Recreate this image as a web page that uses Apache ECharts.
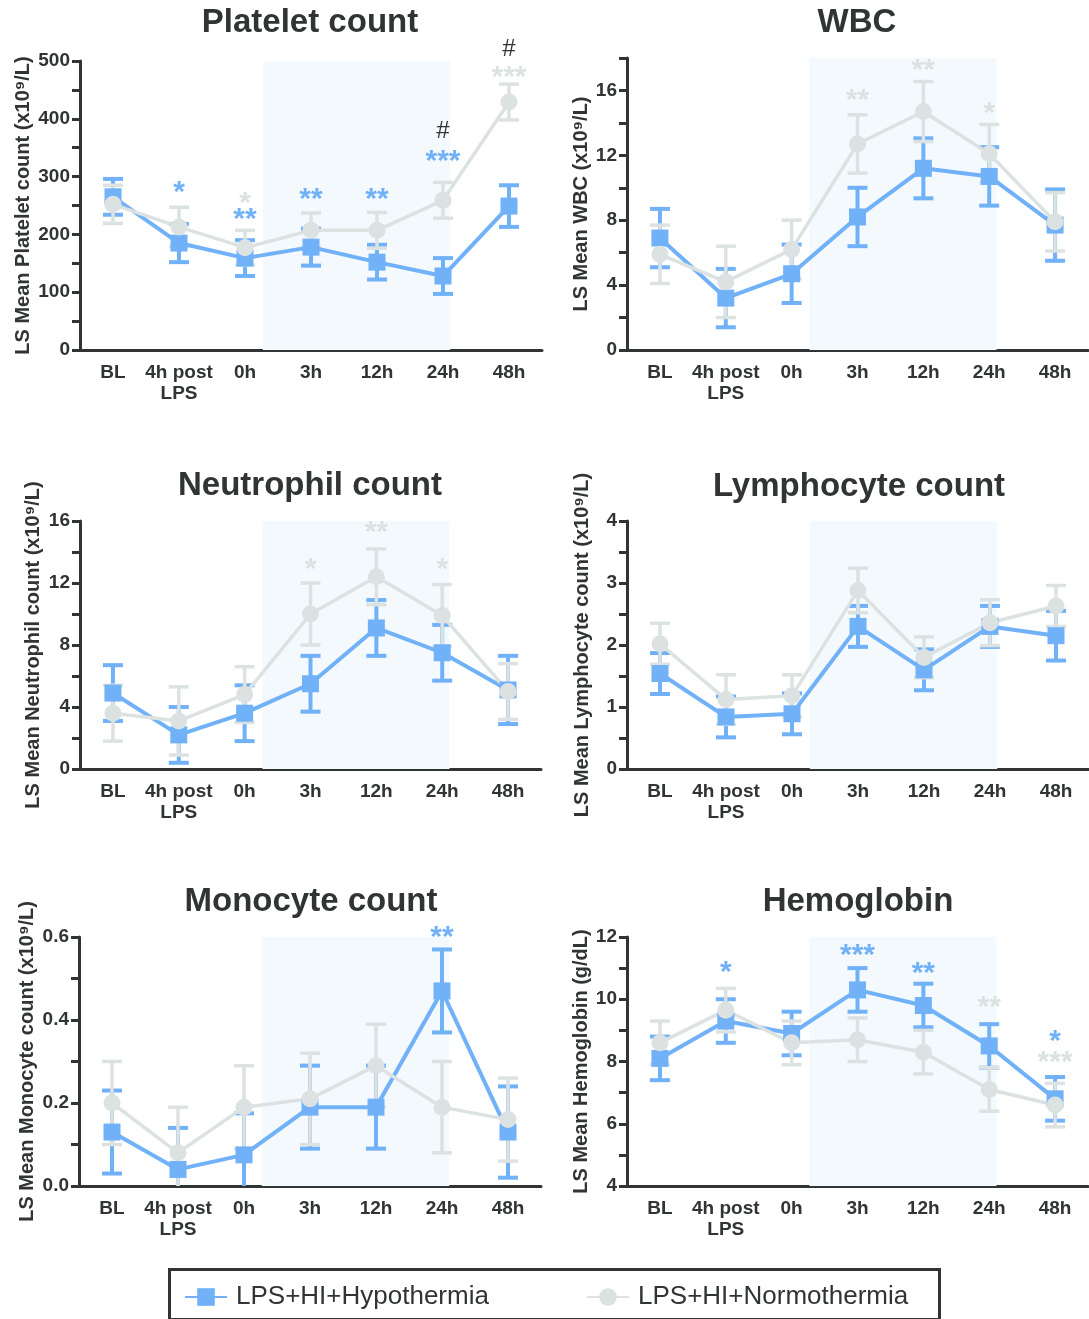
<!DOCTYPE html>
<html>
<head>
<meta charset="utf-8">
<script src="https://cdn.jsdelivr.net/npm/echarts@6/dist/echarts.min.js"></script>
<style>
html,body{margin:0;padding:0;background:#fff;}
#chart{width:1089px;height:1319px;}
</style>
</head>
<body>
<div id="chart"></div>
<script>
// ---------------- DATA ----------------
const categories = ['BL', '4h post\nLPS', '0h', '3h', '12h', '24h', '48h'];
const seriesNames = ['LPS+HI+Hypothermia', 'LPS+HI+Normothermia'];
const shadeRange = [2.27, 5.11];

const panelTitles = ['Platelet count', 'WBC', 'Neutrophil count', 'Lymphocyte count', 'Monocyte count', 'Hemoglobin'];
const yAxisNames = [
  'LS Mean Platelet count (x10\u2079/L)',
  'LS Mean WBC (x10\u2079/L)',
  'LS Mean Neutrophil count (x10\u2079/L)',
  'LS Mean Lymphocyte count (x10\u2079/L)',
  'LS Mean Monocyte count (x10\u2079/L)',
  'LS Mean Hemoglobin (g/dL)'
];
const yMins = [0, 0, 0, 0, 0, 4];
const yMaxs = [500, 18, 16, 4, 0.6, 12];
const yTickStep = [50, 2, 2, 0.5, 0.1, 1];
const yLabelStep = [100, 4, 4, 1, 0.2, 2];

// Platelet
const plateletHypo = [265, 185, 159, 178, 152, 128, 249];
const plateletHypoSE = [31, 33, 31, 32, 30, 31, 36];
const plateletNormo = [252, 213, 177, 207, 207, 259, 429];
const plateletNormoSE = [33, 34, 30, 30, 31, 31, 31];
// WBC
const wbcHypo = [6.9, 3.2, 4.7, 8.2, 11.2, 10.7, 7.7];
const wbcHypoSE = [1.8, 1.8, 1.8, 1.8, 1.85, 1.8, 2.2];
const wbcNormo = [5.9, 4.2, 6.2, 12.7, 14.7, 12.1, 7.9];
const wbcNormoSE = [1.8, 2.2, 1.8, 1.8, 1.85, 1.8, 1.8];
// Neutrophil
const neutHypo = [4.9, 2.2, 3.6, 5.5, 9.1, 7.5, 5.1];
const neutHypoSE = [1.8, 1.8, 1.8, 1.8, 1.8, 1.8, 2.2];
const neutNormo = [3.6, 3.1, 4.8, 10.0, 12.4, 9.9, 5.0];
const neutNormoSE = [1.8, 2.2, 1.8, 2.0, 1.8, 2.0, 1.8];
// Lymphocyte
const lymphHypo = [1.54, 0.84, 0.89, 2.3, 1.6, 2.3, 2.15];
const lymphHypoSE = [0.33, 0.33, 0.33, 0.33, 0.33, 0.33, 0.4];
const lymphNormo = [2.02, 1.12, 1.18, 2.88, 1.8, 2.36, 2.63];
const lymphNormoSE = [0.33, 0.4, 0.34, 0.36, 0.33, 0.37, 0.33];
// Monocyte
const monoHypo = [0.13, 0.04, 0.075, 0.19, 0.19, 0.47, 0.13];
const monoHypoSE = [0.1, 0.1, 0.1, 0.1, 0.1, 0.1, 0.11];
const monoNormo = [0.2, 0.08, 0.19, 0.21, 0.29, 0.19, 0.16];
const monoNormoSE = [0.1, 0.11, 0.1, 0.11, 0.1, 0.11, 0.1];
// Hemoglobin
const hbHypo = [8.1, 9.3, 8.9, 10.3, 9.8, 8.5, 6.8];
const hbHypoSE = [0.7, 0.7, 0.7, 0.7, 0.7, 0.7, 0.7];
const hbNormo = [8.6, 9.65, 8.6, 8.7, 8.3, 7.1, 6.6];
const hbNormoSE = [0.7, 0.7, 0.7, 0.7, 0.7, 0.7, 0.7];

// Significance marks: [category index, y value, text, group]
const plateletMarks = [[1, 283, '*', 'hypo'], [2, 236, '**', 'hypo'], [2, 265, '*', 'normo'], [3, 271, '**', 'hypo'], [4, 271, '**', 'hypo'], [5, 338, '***', 'hypo'], [5, 378, '#', 'hash'], [6, 483, '***', 'normo'], [6, 520, '#', 'hash']];
const wbcMarks = [[3, 15.8, '**', 'normo'], [4, 17.6, '**', 'normo'], [5, 15.0, '*', 'normo']];
const neutMarks = [[3, 13.3, '*', 'normo'], [4, 15.7, '**', 'normo'], [5, 13.3, '*', 'normo']];
const lymphMarks = [];
const monoMarks = [[5, 0.613, '**', 'hypo']];
const hbMarks = [[1, 11.07, '*', 'hypo'], [3, 11.6, '***', 'hypo'], [4, 11.02, '**', 'hypo'], [5, 9.93, '**', 'normo'], [6, 8.86, '*', 'hypo'], [6, 8.16, '***', 'normo']];

const panelData = [
  [plateletHypo, plateletHypoSE, plateletNormo, plateletNormoSE, plateletMarks],
  [wbcHypo, wbcHypoSE, wbcNormo, wbcNormoSE, wbcMarks],
  [neutHypo, neutHypoSE, neutNormo, neutNormoSE, neutMarks],
  [lymphHypo, lymphHypoSE, lymphNormo, lymphNormoSE, lymphMarks],
  [monoHypo, monoHypoSE, monoNormo, monoNormoSE, monoMarks],
  [hbHypo, hbHypoSE, hbNormo, hbNormoSE, hbMarks]
];

// ---------------- LAYOUT / STYLE ----------------
const BLUE = '#70b1f7';
const GRAY = '#dce2e2';
const SHADE = '#f4f9fe';
const DARK = '#303434';
const FONT = 'Liberation Sans, Arial, Helvetica, sans-serif';

const grids = [
  {left: 80, top: 61, width: 462, height: 289},
  {left: 627, top: 58, width: 461, height: 292},
  {left: 80, top: 521, width: 461, height: 248},
  {left: 627, top: 521, width: 463, height: 248},
  {left: 79, top: 937, width: 462, height: 249},
  {left: 627, top: 937, width: 461, height: 249}
];
const nameGaps = [47, 35, 37, 35, 42, 33];
const titlePos = [[310, 23], [857, 23], [310, 486], [859, 487], [311, 902], [858, 902]];

function errRender(color, lw, capW) {
  return function (params, api) {
    const i = api.value(0);
    const pLo = api.coord([i, api.value(1)]);
    const pHi = api.coord([i, api.value(2)]);
    const x = pLo[0];
    const st = {stroke: color, lineWidth: lw};
    return {type: 'group', children: [
      {type: 'line', shape: {x1: x, y1: pLo[1], x2: x, y2: pHi[1]}, style: st},
      {type: 'line', shape: {x1: x - capW / 2, y1: pHi[1], x2: x + capW / 2, y2: pHi[1]}, style: st},
      {type: 'line', shape: {x1: x - capW / 2, y1: pLo[1], x2: x + capW / 2, y2: pLo[1]}, style: st}
    ]};
  };
}

function shadeRender(params, api) {
  const cs = params.coordSys;
  const x1 = api.coord([api.value(0), api.value(2)])[0];
  const x2 = api.coord([api.value(1), api.value(2)])[0];
  return {type: 'rect', shape: {x: x1, y: cs.y, width: x2 - x1, height: cs.height}, style: {fill: SHADE}};
}

function markRender(marks) {
  return function (params, api) {
    const m = marks[params.dataIndex];
    const p = api.coord([m[0], m[1]]);
    const isHash = m[3] === 'hash';
    const fs = isHash ? 24 : 30;
    const color = m[3] === 'hypo' ? BLUE : (m[3] === 'normo' ? GRAY : DARK);
    return {type: 'text', x: p[0], y: p[1] + (isHash ? 0 : fs * 0.22),
      style: {text: m[2], fill: color, font: (isHash ? 'normal ' : 'bold ') + fs + 'px ' + FONT,
        textAlign: 'center', textVerticalAlign: 'middle'}};
  };
}

const option = {
  animation: false,
  backgroundColor: '#fff',
  textStyle: {fontFamily: FONT},
  grid: grids.map(g => Object.assign({containLabel: false}, g)),
  xAxis: [],
  yAxis: [],
  series: [],
  legend: [
    {data: [seriesNames[0]], left: 179, top: 1279, itemWidth: 42, itemHeight: 22, itemGap: 0,
      textStyle: {fontSize: 26, color: DARK, fontFamily: FONT, padding: [0, 0, 0, 4]}, selectedMode: false},
    {data: [seriesNames[1]], left: 581, top: 1279, itemWidth: 42, itemHeight: 22, itemGap: 0,
      textStyle: {fontSize: 26, color: DARK, fontFamily: FONT, padding: [0, 0, 0, 4]}, selectedMode: false}
  ],
  graphic: []
};

// legend box
option.graphic.push({type: 'rect', left: 167, top: 1267, shape: {width: 770, height: 50},
  style: {fill: 'none', stroke: DARK, lineWidth: 3}, silent: true});

panelData.forEach((pd, g) => {
  const [hy, hySE, no, noSE, marks] = pd;
  const lblStep = yLabelStep[g];
  option.xAxis.push({
    type: 'category', gridIndex: g, data: categories, boundaryGap: true,
    axisLine: {onZero: false, lineStyle: {color: DARK, width: 3}},
    axisTick: {alignWithLabel: true, length: 8, lineStyle: {color: DARK, width: 3}},
    axisLabel: {color: DARK, fontSize: 19, fontWeight: 'bold', margin: 12, lineHeight: 21, fontFamily: FONT, interval: 0},
    splitLine: {show: false}
  });
  option.xAxis.push({type: 'value', gridIndex: g, min: -0.5, max: 6.5, show: false});
  option.yAxis.push({
    type: 'value', gridIndex: g, min: yMins[g], max: yMaxs[g], interval: yTickStep[g],
    name: yAxisNames[g], nameLocation: 'middle', nameGap: nameGaps[g], nameRotate: 90,
    nameTextStyle: {color: DARK, fontSize: 20, fontWeight: 'bold', fontFamily: FONT},
    axisLine: {show: true, onZero: false, lineStyle: {color: DARK, width: 3}},
    axisTick: {show: true, length: 8, lineStyle: {color: DARK, width: 3}},
    axisLabel: {color: DARK, fontSize: 19, fontWeight: 'bold', margin: 10, fontFamily: FONT,
      formatter: function (v) {
        const k = Math.round((v - yMins[g]) / lblStep * 1000) / 1000;
        if (Math.abs(k - Math.round(k)) > 1e-6) return '';
        return lblStep < 1 ? v.toFixed(1) : String(Math.round(v));
      }},
    splitLine: {show: false}
  });
  const xi = 2 * g;
  // shade
  option.series.push({type: 'custom', xAxisIndex: xi + 1, yAxisIndex: g, silent: true,
    data: [[shadeRange[0], shadeRange[1], yMins[g]]], encode: {x: [0, 1], y: 2}, renderItem: shadeRender, z: 1});
  // hypothermia
  option.series.push({type: 'custom', xAxisIndex: xi, yAxisIndex: g, silent: true, clip: true,
    data: hy.map((v, i) => [i, v - hySE[i], v + hySE[i]]), encode: {x: 0, y: [1, 2]},
    renderItem: errRender(BLUE, 4, 20), z: 2});
  option.series.push({type: 'line', name: seriesNames[0], xAxisIndex: xi, yAxisIndex: g, data: hy,
    symbol: 'rect', symbolSize: 17, showSymbol: true, silent: true,
    itemStyle: {color: BLUE}, lineStyle: {color: BLUE, width: 4}, z: 2});
  // normothermia
  option.series.push({type: 'custom', xAxisIndex: xi, yAxisIndex: g, silent: true, clip: true,
    data: no.map((v, i) => [i, v - noSE[i], v + noSE[i]]), encode: {x: 0, y: [1, 2]},
    renderItem: errRender(GRAY, 3.5, 20), z: 2});
  option.series.push({type: 'line', name: seriesNames[1], xAxisIndex: xi, yAxisIndex: g, data: no,
    symbol: 'circle', symbolSize: 17, showSymbol: true, silent: true,
    itemStyle: {color: GRAY}, lineStyle: {color: GRAY, width: 3.5}, z: 2});
  // marks
  if (marks.length) {
    option.series.push({type: 'custom', xAxisIndex: xi, yAxisIndex: g, silent: true, clip: false,
      data: marks.map(m => [m[0], m[1]]), encode: {x: 0, y: 1}, renderItem: markRender(marks), z: 5});
  }
  // title
  option.graphic.push({type: 'text', x: titlePos[g][0], y: titlePos[g][1], silent: true,
    style: {text: panelTitles[g], fill: DARK, font: 'bold 33px ' + FONT, textAlign: 'center', textVerticalAlign: 'middle'}});
});

const chart = echarts.init(document.getElementById('chart'), null, {renderer: 'canvas'});
chart.setOption(option);
</script>
</body>
</html>
